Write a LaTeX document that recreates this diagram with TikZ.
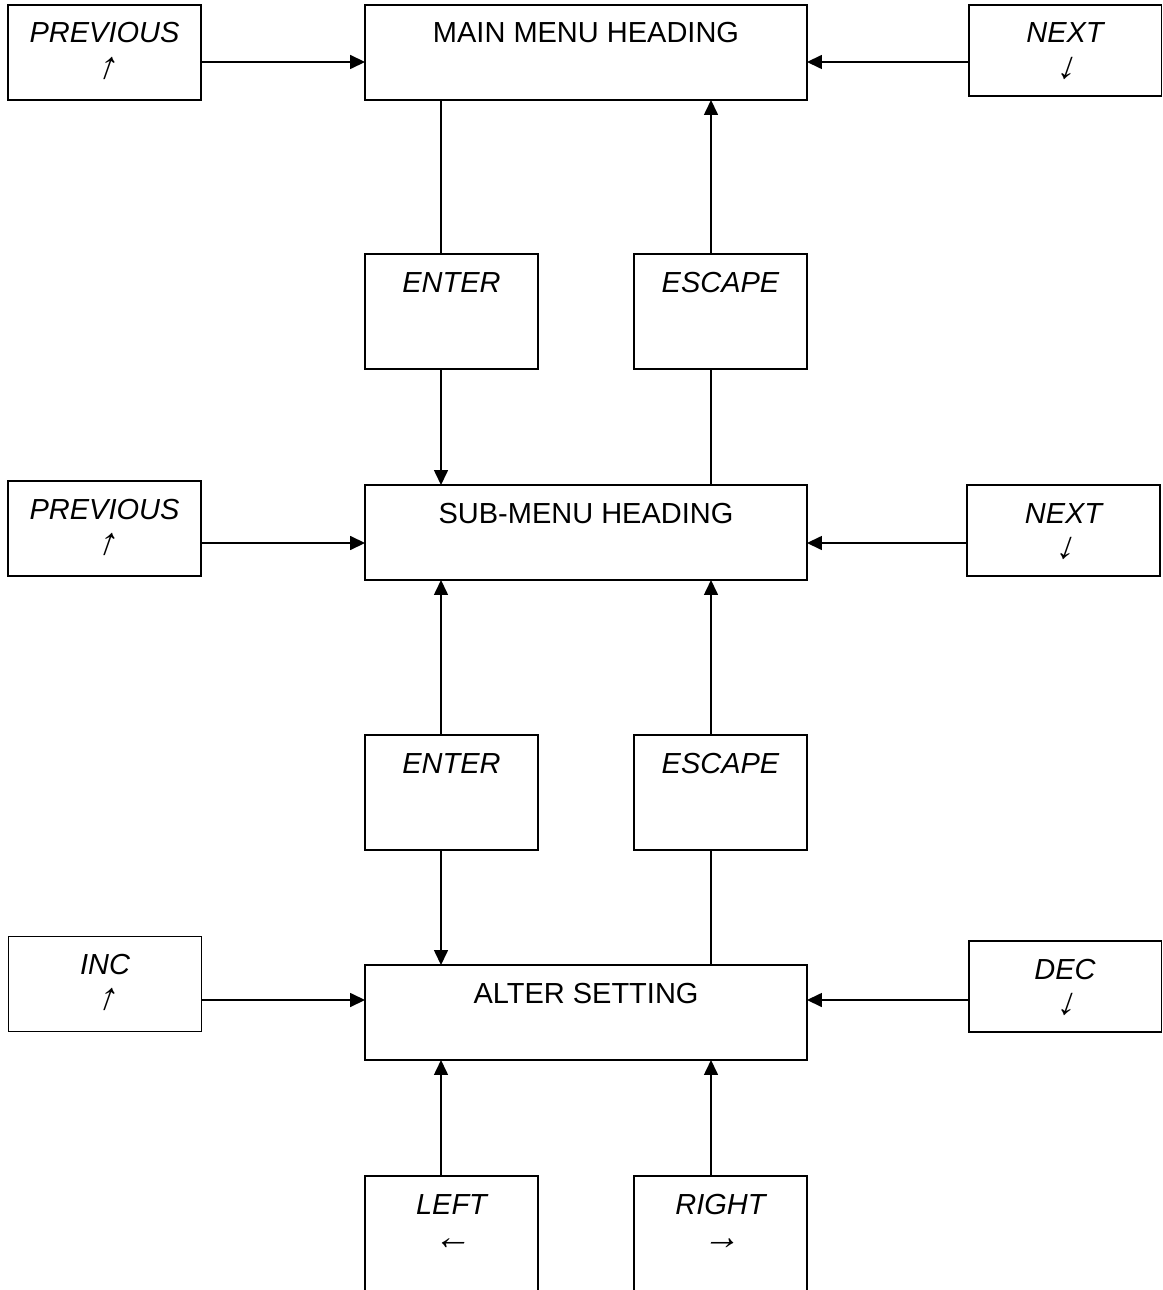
\documentclass[tikz,border=0pt]{standalone}
\usepackage{fontspec}
\setmainfont{Liberation Sans}
\newfontfamily\keyarrows[FakeSlant=0.35, Scale=1.3]{Liberation Sans}
\usetikzlibrary{arrows.meta}

\newcommand{\twolines}[2]{\begin{tabular}[t]{@{}c@{}}#1\\{\keyarrows #2}\end{tabular}}

\begin{document}
\begin{tikzpicture}[x=0.02cm, y=-0.02cm,
  every node/.style={font=\fontsize{16.5}{20}\selectfont},
  box/.style={draw, line width=1.1pt, inner sep=0pt, outer sep=0pt, text height=0.76cm},
  heading/.style={box, minimum width=8.84cm, minimum height=1.9cm, text depth=1.14cm},
  sidekey/.style={box, font=\fontsize{16.5}{20}\selectfont\itshape, minimum width=3.86cm, minimum height=1.9cm, text depth=1.14cm},
  midkey/.style={box, font=\fontsize{16.5}{20}\selectfont\itshape, minimum width=3.46cm, minimum height=2.3cm, text depth=1.54cm},
  link/.style={line width=0.9pt},
  flow/.style={link, -{Triangle[length=0.3cm, width=0.28cm]}}]
\useasboundingbox (0,0) rectangle (1162,1290);

% Menu levels
\node[heading] (main) at (586,52.5) {MAIN MENU HEADING};
\node[heading] (sub) at (586,532.5) {SUB-MENU HEADING};
\node[heading] (alter) at (586,1012.5) {ALTER SETTING};

% Side keys
\node[sidekey] (prev1) at (104.5,52.5) {\twolines{PREVIOUS}{↑}};
\node[sidekey, minimum height=1.82cm, text depth=1.06cm] (next1) at (1065,50.5) {\twolines{NEXT}{↓}};
\node[sidekey] (prev2) at (104.5,528.5) {\twolines{PREVIOUS}{↑}};
\node[sidekey, minimum height=1.82cm, text depth=1.06cm] (next2) at (1063.5,530.5) {\twolines{NEXT}{↓}};
\node[sidekey] (inc) at (105,984) {\twolines{INC}{↑}};
\node[sidekey, minimum height=1.82cm, text depth=1.06cm] (dec) at (1065,986.5) {\twolines{DEC}{↓}};

% Keys between levels
\node[midkey] (enter1) at (451.5,311.5) {ENTER};
\node[midkey] (esc1) at (720.5,311.5) {ESCAPE};
\node[midkey] (enter2) at (451.5,792.5) {ENTER};
\node[midkey] (esc2) at (720.5,792.5) {ESCAPE};
\node[midkey, minimum height=2.4cm, text depth=1.64cm] (keyleft) at (451.5,1236) {\twolines{LEFT}{←}};
\node[midkey, minimum height=2.4cm, text depth=1.64cm] (keyright) at (720.5,1236) {\twolines{RIGHT}{→}};

% Connector columns and rows
\coordinate (colL) at (441,0);
\coordinate (colR) at (711,0);
\coordinate (row1) at (0,62);
\coordinate (row2) at (0,543);
\coordinate (row3) at (0,1000);

% Top level
\draw[flow] (prev1.east |- row1) -- (main.west |- row1);
\draw[flow] (next1.west |- row1) -- (main.east |- row1);
\draw[link] (main.south -| colL) -- (enter1.north -| colL);
\draw[flow] (enter1.south -| colL) -- (sub.north -| colL);
\draw[flow] (esc1.north -| colR) -- (main.south -| colR);
\draw[link] (sub.north -| colR) -- (esc1.south -| colR);

% Sub-menu level
\draw[flow] (prev2.east |- row2) -- (sub.west |- row2);
\draw[flow] (next2.west |- row2) -- (sub.east |- row2);
\draw[flow] (enter2.north -| colL) -- (sub.south -| colL);
\draw[flow] (esc2.north -| colR) -- (sub.south -| colR);
\draw[flow] (enter2.south -| colL) -- (alter.north -| colL);
\draw[link] (alter.north -| colR) -- (esc2.south -| colR);

% Setting level
\draw[flow] (inc.east |- row3) -- (alter.west |- row3);
\draw[flow] (dec.west |- row3) -- (alter.east |- row3);
\draw[flow] (keyleft.north -| colL) -- (alter.south -| colL);
\draw[flow] (keyright.north -| colR) -- (alter.south -| colR);
\end{tikzpicture}
\end{document}
